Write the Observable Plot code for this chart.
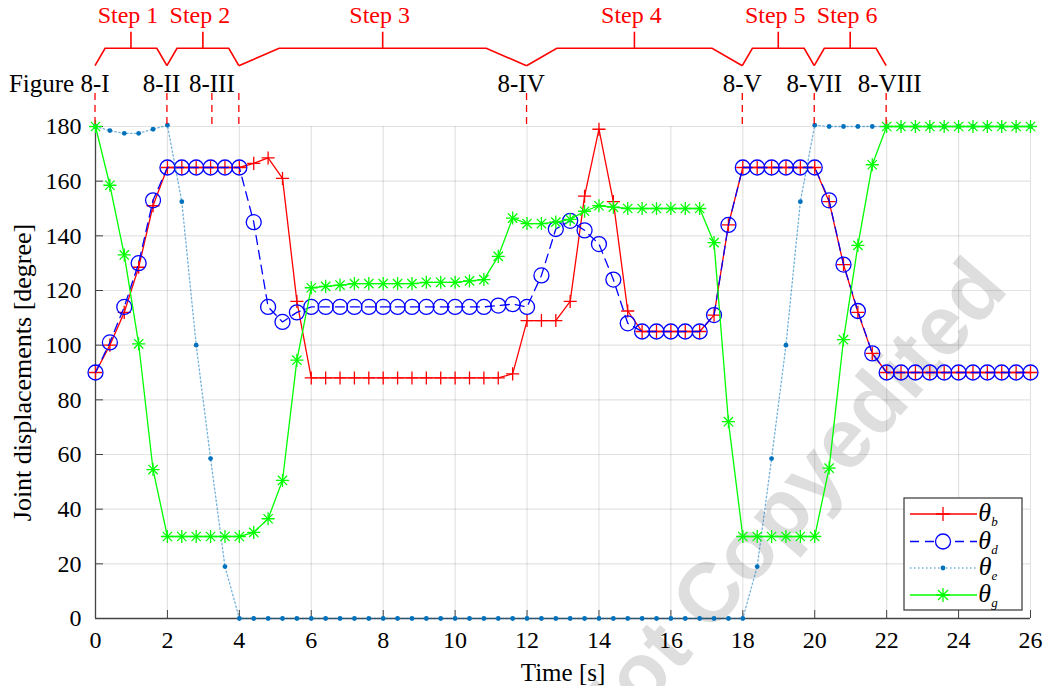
<!DOCTYPE html>
<html><head><meta charset="utf-8">
<script src="https://cdn.jsdelivr.net/npm/d3@7"></script>
<script src="https://cdn.jsdelivr.net/npm/@observablehq/plot@0.6"></script>
<style>body{margin:0;background:#fff;} svg{display:block}</style>
</head><body><div id="chart"></div>
<script>
const time = [0,0.4,0.8,1.2,1.6,2,2.4,2.8,3.2,3.6,4,4.4,4.8,5.2,5.6,6,6.4,6.8,7.2,7.6,8,8.4,8.8,9.2,9.6,10,10.4,10.8,11.2,11.6,12,12.4,12.8,13.2,13.6,14,14.4,14.8,15.2,15.6,16,16.4,16.8,17.2,17.6,18,18.4,18.8,19.2,19.6,20,20.4,20.8,21.2,21.6,22,22.4,22.8,23.2,23.6,24,24.4,24.8,25.2,25.6,26];
const thetaB = [90,100,112,128.5,151, 165,165,165,165,165,165, 166.5,168.5,161,116,
  88,88,88,88,88,88,88,88,88,88,88,88,88,88, 89.5, 109,109,109, 116,154.5,179,152.5,112.5,
  105,105,105,105,105, 111,144, 165,165,165,165,165,165, 152.5,129.5,112,97,
  90,90,90,90,90,90,90,90,90,90,90];
const thetaD = [90,101,114,130,153, 165,165,165,165,165,165, 145,114,108.5,112,
  114,114,114,114,114,114,114,114,114,114,114,114,114, 114.5,115, 114,
  125.5,142.5,145.5,142,137,124,108, 105,105,105,105,105, 111,144,
  165,165,165,165,165,165, 153,129.5,112.5,97, 90,90,90,90,90,90,90,90,90,90,90];
const thetaE = [180,178.5,177.5,177.5,179,180.5, 152.5,100,58.5,19,
  0,0,0,0,0,0,0,0,0,0,0,0,0,0,0,0,0,0,0,0,0,0,0,0,0,0,0,0,0,0,0,0,0,0,0,0,
  19,58.5,100,152.5, 180.5, 180,180,180,180,180,180,180,180,180,180,180,180,180,180,180];
const thetaG = [180,158.5,133,100.5,54.5, 30,30,30,30,30,30, 31.5,36.5,50.5,94.5,
  121,121.5,122,122.5,122.5,122.5,122.5,122.5,123,123,123,123.5,124,
  132.5,146.5,144.5,144.5,145,146, 149,151,150.5,150, 150,150,150,150,150, 137.5,72,
  30,30,30,30,30,30, 55,102,136.5,166,180, 180,180,180,180,180,180,180,180,180,180];
const xTicks = [0,2,4,6,8,10,12,14,16,18,20,22,24,26];
const yTicks = [0,20,40,60,80,100,120,140,160,180];
const stepNames = ["Step 1","Step 2","Step 3","Step 4","Step 5","Step 6"];
const stepBounds = [0,2,4,12,18,20,22];
const figureLines = [0,2,3.25,4,12,18,20,22];
const figureNames = ["Figure 8-I","8-II","8-III","8-IV","8-V","8-VII","8-VIII"];
const figureAt = [0,1.85,3.25,11.85,18,20,22.1];
const seriesNames = ["b","d","e","g"];

const rows = vals => time.map((t,i)=>({t, v: vals[i]}));
const B = rows(thetaB), D = rows(thetaD), E = rows(thetaE), G = rows(thetaG);

const RED="#ff0000", BLUE="#0000ff", LBLUE="#0072bd", GREEN="#00ff00";
const serif = "'Liberation Serif','Times New Roman',serif";

const plot = Plot.plot({
  width: 1044, height: 686,
  marginLeft: 95, marginRight: 14, marginTop: 126, marginBottom: 68,
  x: {domain: [0,26]}, y: {domain: [0,180]},
  style: {fontFamily: serif, fontSize: "24px", color: "#000", background: "#fff", overflow: "visible"},
  marks: [
    Plot.gridX(xTicks, {stroke: "#000", strokeOpacity: 0.11, strokeWidth: 1.2}),
    Plot.gridY(yTicks, {stroke: "#000", strokeOpacity: 0.11, strokeWidth: 1.2}),
    Plot.ruleX([0], {stroke: "#444", strokeWidth: 1.3}),
    Plot.ruleY([0], {stroke: "#444", strokeWidth: 1.3}),
    Plot.axisX({ticks: xTicks, tickSize: -8, tickPadding: 20, stroke: "#444", label: null, tickFormat: d=>d}),
    Plot.axisY({ticks: yTicks, tickSize: -8, tickPadding: 22, stroke: "#444", label: null, tickFormat: d=>d}),
    // theta_b
    Plot.line(B, {x: "t", y: "v", stroke: RED, strokeWidth: 1.3}),
    Plot.dot(B, {x: "t", y: "v", symbol: "plus", r: 4.3, stroke: RED, strokeWidth: 1.3}),
    // theta_d
    Plot.line(D, {x: "t", y: "v", stroke: BLUE, strokeWidth: 1.3, strokeDasharray: "9,6"}),
    Plot.dot(D, {x: "t", y: "v", symbol: "circle", r: 7.5, stroke: BLUE, strokeWidth: 1.3, fill: "none"}),
    // theta_e
    Plot.line(E, {x: "t", y: "v", stroke: LBLUE, strokeWidth: 1.3, strokeDasharray: "1.5,2.5", strokeOpacity: 0.55}),
    Plot.dot(E, {x: "t", y: "v", r: 2.4, fill: LBLUE, stroke: "none"}),
    // theta_g
    Plot.line(G, {x: "t", y: "v", stroke: GREEN, strokeWidth: 1.3}),
    Plot.dot(G, {x: "t", y: "v", symbol: "plus", r: 4.3, stroke: GREEN, strokeWidth: 1.3}),
    Plot.dot(G, {x: "t", y: "v", symbol: "times", r: 4.3, stroke: GREEN, strokeWidth: 1.3}),
    // axis titles
    Plot.text(["Joint displacements [degree]"], {frameAnchor: "left", textAnchor: "middle", lineAnchor: "middle", rotate: -90, dx: -73, fontSize: 26, fontFamily: serif}),
    Plot.text(["Time [s]"], {frameAnchor: "bottom", lineAnchor: "middle", dy: 54, fontSize: 25, fontFamily: serif})
  ]
});
document.getElementById("chart").appendChild(plot);

const svg = d3.select(plot);
const X = t => plot.scale("x").apply(t);

// watermark
svg.insert("text", "g")
  .attr("transform", "translate(1010,290) rotate(-49)")
  .attr("text-anchor", "end")
  .attr("font-family", "'Liberation Sans', Arial, sans-serif")
  .attr("font-weight", "bold").attr("font-size", 84)
  .attr("fill", "#000").attr("fill-opacity", 0.13)
  .text("Not Copyedited");

const ann = svg.append("g");
// brackets
for (let k = 0; k < stepNames.length; k++) {
  const xa = X(stepBounds[k]), xb = X(stepBounds[k+1]);
  const ins = 0.14 * (xb - xa), mid = (xa + xb) / 2;
  ann.append("path").attr("d", `M${xa},65.7L${xa+ins},48.3L${xb-ins},48.3L${xb},65.7M${mid},48.3L${mid},31.7`)
    .attr("fill", "none").attr("stroke", RED).attr("stroke-width", 1.6);
  ann.append("text").attr("x", mid - 3).attr("y", 23).attr("text-anchor", "middle")
    .attr("font-family", serif).attr("font-size", 24).attr("fill", RED).text(stepNames[k]);
}
// dashed figure lines
figureLines.forEach(t => {
  ann.append("line").attr("x1", X(t)).attr("x2", X(t)).attr("y1", 93).attr("y2", 126)
    .attr("stroke", RED).attr("stroke-width", 1.3).attr("stroke-dasharray", "7,5");
});
// figure labels
figureNames.forEach((name, i) => {
  const el = ann.append("text").attr("y", 92).attr("font-family", serif).attr("font-size", 25).attr("fill", "#000");
  if (i === 0) {
    const tmp = ann.append("text").attr("font-family", serif).attr("font-size", 25).text("8-I");
    const w = tmp.node().getComputedTextLength(); tmp.remove();
    el.attr("x", X(figureAt[i]) + w / 2).attr("text-anchor", "end").text(name);
  } else {
    el.attr("x", X(figureAt[i])).attr("text-anchor", "middle").text(name);
  }
});

// legend
const lg = svg.append("g");
lg.append("rect").attr("x", 904).attr("y", 498).attr("width", 118).attr("height", 112)
  .attr("fill", "#fff").attr("stroke", "#444").attr("stroke-width", 1.3);
const rowY = [514, 541.5, 568, 595];
const styles = [
  {stroke: RED, dash: null, op: 1},
  {stroke: BLUE, dash: "9,6", op: 1},
  {stroke: LBLUE, dash: "1.5,2.5", op: 0.55},
  {stroke: GREEN, dash: null, op: 1}
];
seriesNames.forEach((s, i) => {
  const y = rowY[i], st = styles[i], cx = 943, a = 7;
  lg.append("line").attr("x1", 910).attr("x2", 977).attr("y1", y).attr("y2", y)
    .attr("stroke", st.stroke).attr("stroke-width", 1.3).attr("stroke-dasharray", st.dash).attr("stroke-opacity", st.op);
  if (i === 0) lg.append("path").attr("d", `M${cx-a},${y}H${cx+a}M${cx},${y-a}V${y+a}`).attr("stroke", RED).attr("stroke-width", 1.3);
  if (i === 1) lg.append("circle").attr("cx", cx).attr("cy", y).attr("r", 7.5).attr("fill", "#fff").attr("stroke", BLUE).attr("stroke-width", 1.3);
  if (i === 2) lg.append("circle").attr("cx", cx).attr("cy", y).attr("r", 2.4).attr("fill", LBLUE);
  if (i === 3) { const b = a * 0.72;
    lg.append("path").attr("d", `M${cx-a},${y}H${cx+a}M${cx},${y-a}V${y+a}M${cx-b},${y-b}L${cx+b},${y+b}M${cx-b},${y+b}L${cx+b},${y-b}`).attr("stroke", GREEN).attr("stroke-width", 1.3); }
  const tx = lg.append("text").attr("x", 988).attr("y", y + 7).attr("font-family", serif).attr("font-style", "italic").attr("font-size", 26);
  tx.append("tspan").text("θ");
  tx.append("tspan").attr("font-size", 13).attr("dy", 5).text(s);
});
</script></body></html>
